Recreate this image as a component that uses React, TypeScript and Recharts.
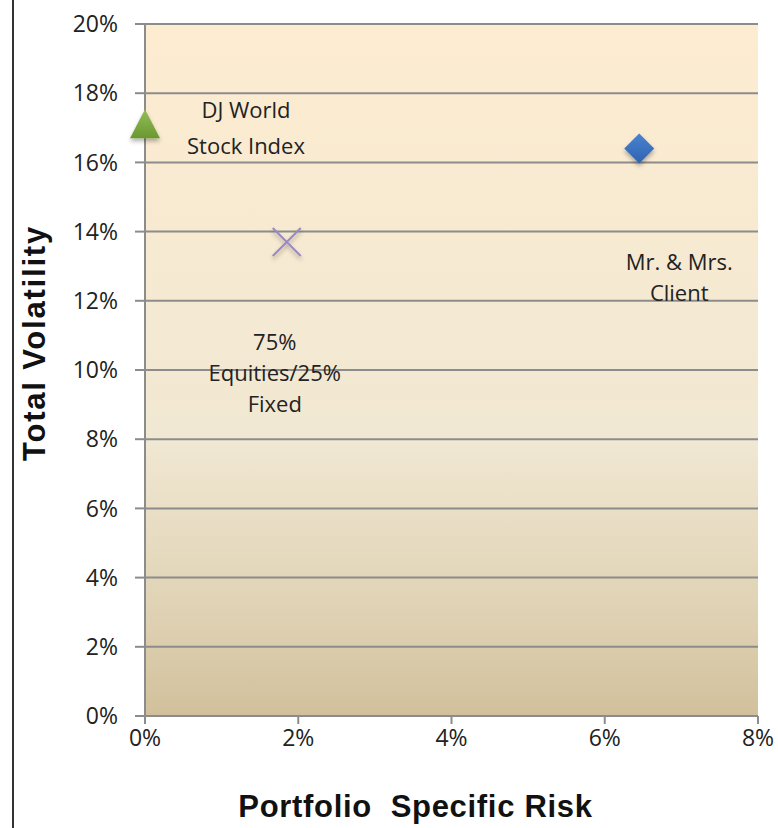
import React from "react";
import { ScatterChart, Scatter, XAxis, YAxis, CartesianGrid, Label } from "recharts";

// portfolio points: specific risk (%) vs total volatility (%)
const pointNames = ["DJ World Stock Index", "Mr. & Mrs. Client", "75% Equities/25% Fixed"];
const riskValues = [0, 6.45, 1.85];
const volatilityValues = [17.1, 16.4, 13.7];
const labelLines = [["DJ World", "Stock Index"], ["Mr. & Mrs.", "Client"], ["75%", "Equities/25%", "Fixed"]];

const xTicks = [0, 2, 4, 6, 8];
const yTicks = [0, 2, 4, 6, 8, 10, 12, 14, 16, 18, 20];

const TEXT_FONT = "'Open Sans', sans-serif";
const TITLE_FONT = "'Liberation Sans', Arial, sans-serif";

// where each point's caption sits relative to the marker
const labelLayout: Record<string, { dx: number; dy: number; lh: number }> = {
  "DJ World Stock Index": { dx: 101, dy: -6, lh: 36 },
  "Mr. & Mrs. Client": { dx: 40, dy: 121, lh: 31 },
  "75% Equities/25% Fixed": { dx: -12, dy: 108, lh: 31 },
};

const pointData = pointNames.map((name, i) => [
  { name, risk: riskValues[i], vol: volatilityValues[i], lines: labelLines[i] },
]);

function Caption({ cx, cy, payload }: any) {
  const lay = labelLayout[payload.name];
  return (
    <text fontFamily={TEXT_FONT} fontSize={22} fill="#222" textAnchor="middle">
      {payload.lines.map((l: string, i: number) => (
        <tspan key={i} x={cx + lay.dx} y={cy + lay.dy + i * lay.lh}>
          {l}
        </tspan>
      ))}
    </text>
  );
}

const Triangle = (props: any) => {
  const { cx, cy } = props;
  return (
    <g>
      <path
        d={`M${cx},${cy - 15} L${cx + 15},${cy + 14} L${cx - 15},${cy + 14} Z`}
        fill="url(#triFill)"
        filter="url(#shadow)"
      />
      <Caption {...props} />
    </g>
  );
};

const Diamond = (props: any) => {
  const { cx, cy } = props;
  return (
    <g>
      <path
        d={`M${cx},${cy - 15} L${cx + 15},${cy} L${cx},${cy + 15} L${cx - 15},${cy} Z`}
        fill="url(#diaFill)"
        filter="url(#shadow)"
      />
      <Caption {...props} />
    </g>
  );
};

const Cross = (props: any) => {
  const { cx, cy } = props;
  return (
    <g>
      <path
        d={`M${cx - 14},${cy - 14} L${cx + 14},${cy + 14} M${cx + 14},${cy - 14} L${cx - 14},${cy + 14}`}
        stroke="#9a88c2"
        strokeWidth={2}
        filter="url(#shadow)"
      />
      <Caption {...props} />
    </g>
  );
};

const shapes = [Triangle, Diamond, Cross];

export default function App() {
  return (
    <div style={{ position: "absolute", left: 0, top: 0, width: 778, height: 828, background: "#fff" }}>
      <div style={{ position: "absolute", left: 12, top: 0, width: 2, height: 828, background: "#333" }} />
      <ScatterChart width={778} height={828} margin={{ top: 24, right: 20, bottom: 0, left: 0 }}>
        <defs>
          <linearGradient id="plotBg" x1="0" y1="0" x2="0" y2="1">
            <stop offset="0" stopColor="#fdecd0" />
            <stop offset="0.6" stopColor="#f1e8d3" />
            <stop offset="0.85" stopColor="#dfd2b4" />
            <stop offset="1" stopColor="#d1c09b" />
          </linearGradient>
          <linearGradient id="triFill" x1="0" y1="0" x2="0" y2="1">
            <stop offset="0" stopColor="#93bd58" />
            <stop offset="1" stopColor="#6a9830" />
          </linearGradient>
          <linearGradient id="diaFill" x1="0" y1="0" x2="0" y2="1">
            <stop offset="0" stopColor="#4a82d0" />
            <stop offset="1" stopColor="#2f63b0" />
          </linearGradient>
          <filter id="shadow" x="-50%" y="-50%" width="200%" height="200%">
            <feDropShadow dx="0" dy="3" stdDeviation="2" floodColor="#000" floodOpacity="0.3" />
          </filter>
        </defs>
        <CartesianGrid
          vertical={false}
          stroke="#8c8c8c"
          strokeWidth={2}
          fill="url(#plotBg)"
          fillOpacity={1}
        />
        <XAxis
          type="number"
          dataKey="risk"
          domain={[0, 8]}
          ticks={xTicks}
          tickFormatter={(v) => `${v}%`}
          height={112}
          tickSize={8}
          tickMargin={6}
          stroke="#8c8c8c"
          strokeWidth={2}
          tick={{ fontFamily: TEXT_FONT, fontSize: 23, fill: "#222" }}
          interval={0}
        >
          <Label
            content={({ viewBox }: any) => (
              <text
                x={viewBox.x + viewBox.width / 2 - 36}
                y={viewBox.y + 101}
                textAnchor="middle"
                fontFamily={TITLE_FONT}
                fontWeight="bold"
                fontSize={31}
                letterSpacing={0.7}
                fill="#111"
              >
                {"Portfolio\u00a0 Specific Risk"}
              </text>
            )}
          />
        </XAxis>
        <YAxis
          type="number"
          dataKey="vol"
          domain={[0, 20]}
          ticks={yTicks}
          tickFormatter={(v) => `${v}%`}
          width={145}
          tickSize={10}
          tickMargin={17}
          stroke="#8c8c8c"
          strokeWidth={2}
          tick={{ fontFamily: TEXT_FONT, fontSize: 23, fill: "#222" }}
          interval={0}
        >
          <Label
            content={({ viewBox }: any) => {
              const x = viewBox.x + 45;
              const y = viewBox.y + viewBox.height / 2 - 27;
              return (
                <text
                  x={x}
                  y={y}
                  transform={`rotate(-90, ${x}, ${y})`}
                  textAnchor="middle"
                  fontFamily={TITLE_FONT}
                  fontWeight="bold"
                  fontSize={31}
                  letterSpacing={1.8}
                  fill="#111"
                >
                  Total Volatility
                </text>
              );
            }}
          />
        </YAxis>
        {pointData.map((d, i) => (
          <Scatter key={pointNames[i]} name={pointNames[i]} data={d} shape={shapes[i]} isAnimationActive={false} />
        ))}
      </ScatterChart>
    </div>
  );
}
